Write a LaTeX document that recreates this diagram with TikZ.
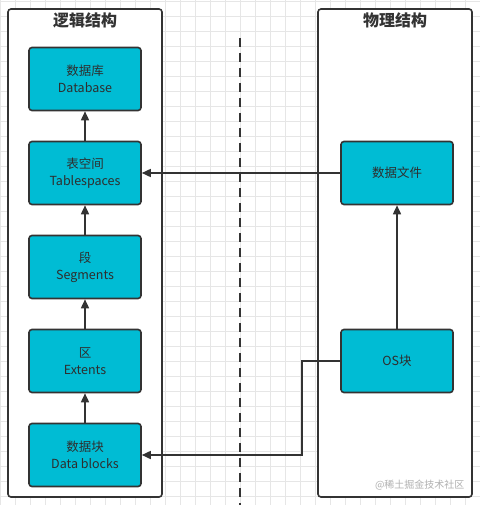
\documentclass[tikz,border=0pt]{standalone}
\usepackage{fontspec}
\setmainfont{Noto Sans CJK SC}
\usetikzlibrary{arrows.meta}
\definecolor{boxfill}{HTML}{00BCD4}
\definecolor{ink}{HTML}{333333}
\definecolor{gridc}{HTML}{E6E6E6}
\definecolor{wm}{HTML}{B0B0B0}
\tikzset{
  x=1bp, y=-1bp,
  container/.style={draw=ink, line width=1.6bp, rounded corners=3bp, fill=white},
  cell/.style={draw=ink, line width=1.6bp, rounded corners=3bp, fill=boxfill,
    minimum width=112bp, minimum height=63bp, inner sep=0pt, align=center,
    font=\fontsize{12.5bp}{17bp}\selectfont, text=ink!90!black},
  conn/.style={draw=ink, line width=1.6bp, -{Triangle[length=9bp,width=8bp]}},
  ttl/.style={font=\fontsize{16bp}{18bp}\selectfont\bfseries, text=ink}
}
\begin{document}
\begin{tikzpicture}
\useasboundingbox (0,0) rectangle (480,505);
\fill[white] (0,0) rectangle (480,505);
\foreach \i in {0,15,...,480} \draw[gridc, line width=0.7bp] (\i,0) -- (\i,505);
\foreach \j in {0,15,...,505} \draw[gridc, line width=0.7bp] (0,\j+1) -- (480,\j+1);
% containers
\draw[container] (8,9) rectangle (162,497);
\draw[container] (318,9) rectangle (472,497);
\node[ttl] (tl) at (85,20) {逻辑结构};
\node[ttl] (tr) at (395,20) {物理结构};
% dashed separator
\draw[ink, line width=2bp, dash pattern=on 9bp off 6bp] (240,38) -- (240,505);
% left boxes
\node[cell] (db) at (85,79) {数据库\\Database};
\node[cell] (ts) at (85,173) {表空间\\Tablespaces};
\node[cell] (sg) at (85,267) {段\\Segments};
\node[cell] (ex) at (85,361) {区\\Extents};
\node[cell] (bl) at (85,455) {数据块\\Data blocks};
% right boxes
\node[cell] (df) at (397,173) {数据文件};
\node[cell] (os) at (397,361) {OS块};
% connectors
\draw[conn] (ts) -- (db);
\draw[conn] (sg) -- (ts);
\draw[conn] (ex) -- (sg);
\draw[conn] (bl) -- (ex);
\draw[conn] (df) -- (ts);
\draw[conn] (os) -- (df);
\coordinate (k1) at (302,361);
\coordinate (k2) at (302,455);
\draw[conn] (os.west) -- (k1) -- (k2) -- (bl.east);
% watermark
\node[text=wm, font=\fontsize{10bp}{12bp}\selectfont, anchor=east] (wmk) at (468,485) {@稀土掘金技术社区};
\end{tikzpicture}
\end{document}
